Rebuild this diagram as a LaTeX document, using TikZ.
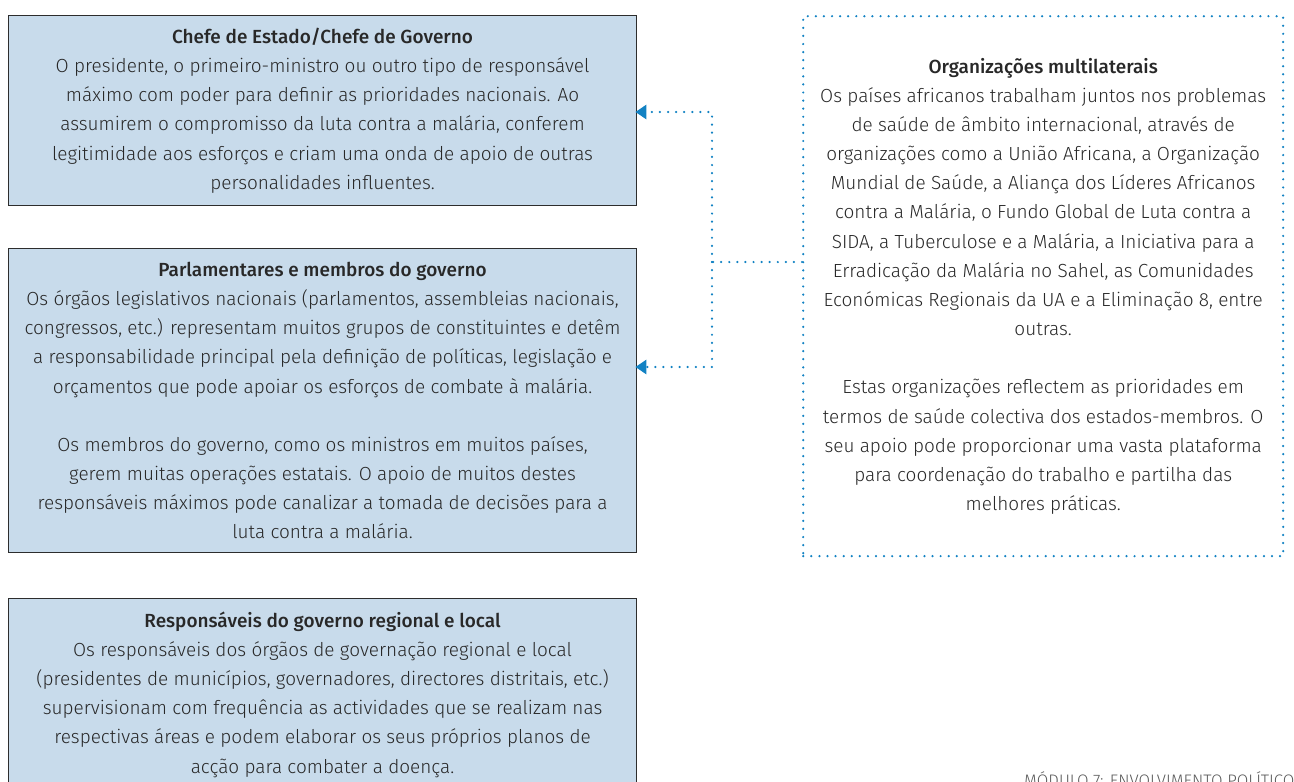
\documentclass[tikz,border=0pt]{standalone}
\usepackage{fontspec}
\setmainfont{Fira Sans Light}[BoldFont={Fira Sans Medium}]
\usepackage{tikz}
\usetikzlibrary{arrows.meta,positioning,calc}
\usepackage{xcolor}
\definecolor{boxblue}{RGB}{200,219,235}
\definecolor{boxline}{RGB}{45,45,45}
\definecolor{linkblue}{RGB}{18,130,195}
\definecolor{txtgrey}{RGB}{40,40,40}
\definecolor{footgrey}{RGB}{90,90,90}

\begin{document}
\begin{tikzpicture}[
  x=0.02cm, y=-0.02cm,
  actor/.style={draw=boxline, line width=0.7pt, fill=boxblue, anchor=north west, align=center,
                minimum width=12.56cm, text=txtgrey, font=\fontsize{10.8}{16.6}\selectfont},
  multi/.style={draw=linkblue, line width=1.4pt, dash pattern=on 0pt off 4.6pt, line cap=round,
                anchor=north west, align=center, minimum width=9.6cm, minimum height=10.8cm,
                text=txtgrey, font=\fontsize{10.8}{16.6}\selectfont},
  link/.style={draw=linkblue, line width=1.4pt, dash pattern=on 0pt off 4.6pt, line cap=round},
  tip/.style={-{Triangle[length=0.22cm, width=0.28cm, fill=linkblue, color=linkblue]}, shorten >=-1pt}
]
\useasboundingbox (0,0) rectangle (1294,781);
\clip (0,0) rectangle (1294,781);

% ---- left column: three groups of decision makers ----
\node[actor, minimum height=3.8cm] (chefe) at (8,15) {%
  \textbf{Chefe de Estado/Chefe de Governo}\\
  O presidente, o primeiro-ministro ou outro tipo de responsável\\
  máximo com poder para definir as prioridades nacionais. Ao\\
  assumirem o compromisso da luta contra a malária, conferem\\
  legitimidade aos esforços e criam uma onda de apoio de outras\\
  personalidades influentes.};

\node[actor, minimum height=6.08cm] (parl) at (8,248) {%
  \textbf{Parlamentares e membros do governo}\\
  Os órgãos legislativos nacionais (parlamentos, assembleias nacionais,\\
  congressos, etc.) representam muitos grupos de constituintes e detêm\\
  a responsabilidade principal pela definição de políticas, legislação e\\
  orçamentos que pode apoiar os esforços de combate à malária.\\[16.6pt]
  Os membros do governo, como os ministros em muitos países,\\
  gerem muitas operações estatais. O apoio de muitos destes\\
  responsáveis máximos pode canalizar a tomada de decisões para a\\
  luta contra a malária.};

\node[actor, minimum height=3.84cm] (regional) at (8,598) {%
  \textbf{Responsáveis do governo regional e local}\\
  Os responsáveis dos órgãos de governação regional e local\\
  (presidentes de municípios, governadores, directores distritais, etc.)\\
  supervisionam com frequência as actividades que se realizam nas\\
  respectivas áreas e podem elaborar os seus próprios planos de\\
  acção para combater a doença.};

% ---- right: multilateral organisations (dotted frame) ----
\node[multi] (multi) at (802,15) {%
  \textbf{Organizações multilaterais}\\
  Os países africanos trabalham juntos nos problemas\\
  de saúde de âmbito internacional, através de\\
  organizações como a União Africana, a Organização\\
  Mundial de Saúde, a Aliança dos Líderes Africanos\\
  contra a Malária, o Fundo Global de Luta contra a\\
  SIDA, a Tuberculose e a Malária, a Iniciativa para a\\
  Erradicação da Malária no Sahel, as Comunidades\\
  Económicas Regionais da UA e a Eliminação 8, entre\\
  outras.\\[16.6pt]
  Estas organizações reflectem as prioridades em\\
  termos de saúde colectiva dos estados-membros. O\\
  seu apoio pode proporcionar uma vasta plataforma\\
  para coordenação do trabalho e partilha das\\
  melhores práticas.};

% ---- dotted links from the organisations to the first two boxes ----
\coordinate (split) at (712,262);
\draw[link] (multi.west |- split) -- (split);
\draw[link, tip] (split) |- (chefe.east |- 0,112);
\draw[link, tip] (split) |- (parl.east |- 0,367);

% ---- page footer ----
\node[anchor=base west, text=footgrey, font=\fontsize{9.5}{11}\selectfont] (foot) at (1018,786)
  {MÓDULO 7: ENVOLVIMENTO POLÍTICO};

\end{tikzpicture}
\end{document}
